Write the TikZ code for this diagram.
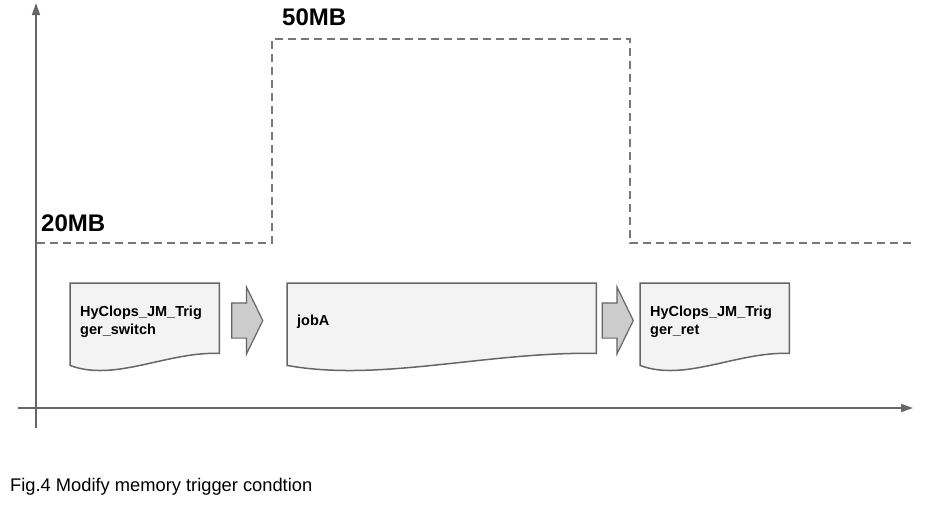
\documentclass[tikz,border=0pt]{standalone}
\usepackage{fontspec}
\setmainfont{Liberation Sans}
\usetikzlibrary{arrows.meta}
\usetikzlibrary{shapes.arrows}
\usetikzlibrary{calc}
\usetikzlibrary{backgrounds}
\definecolor{linegray}{HTML}{666666}
\definecolor{dashgray}{HTML}{777777}
\definecolor{docfill}{HTML}{F3F3F3}
\definecolor{flowfill}{HTML}{CCCCCC}
\tikzset{
axis/.style={draw=linegray,line width=1.5pt,-{Triangle[length=12pt,width=8pt]}},
limit/.style={draw=dashgray,line width=1.5pt,dash pattern=on 8pt off 5pt},
memlabel/.style={font=\bfseries\fontsize{24}{28}\selectfont,inner sep=0pt,anchor=base west},
docnode/.style={
  rectangle,
  anchor=north west,
  minimum height=70pt,
  inner xsep=10pt,
  inner ysep=0pt,
  text height=17pt,
  align=left,
  font=\bfseries\fontsize{14.5}{18}\selectfont
},
docshape/.style={draw=linegray,fill=docfill,line width=1.5pt},
flow/.style={
  single arrow,
  draw=linegray,
  fill=flowfill,
  line width=1.2pt,
  text height=0pt,
  text depth=0pt,
  inner xsep=0pt,
  inner ysep=17pt,
  minimum height=31pt,
  single arrow head extend=16pt,
  single arrow tip angle=128
},
}

\begin{document}
\begin{tikzpicture}[x=1pt,y=-1pt]
\useasboundingbox (0,0) rectangle (926,504);
% the axes
\coordinate (ybot) at (36,428);
\coordinate (ytop) at (36,3);
\coordinate (xleft) at (18,408);
\coordinate (xright) at (913,408);
\draw[axis] (ybot) -- (ytop);
\draw[axis] (xleft) -- (xright);
% the memory limit
\draw[limit] (37,243) -- (272,243) -- (272,39) -- (630,39) -- (630,243) -- (912,243);
\node[memlabel] (low) at (41,231) {20MB};
\node[memlabel] (high) at (282,25) {50MB};
% the jobs
\node[docnode,text width=129pt] (trigsw) at (70,283) {HyClops\_JM\_Trig\\ger\_switch};
\node[docnode,text width=289pt] (joba) at (287,283) {jobA};
\node[docnode,text width=129pt] (trigret) at (640,283) {HyClops\_JM\_Trig\\ger\_ret};
\begin{scope}[on background layer]
\foreach \d in {trigsw,joba,trigret}
{
  \draw[docshape] (\d.north west) -- (\d.north east) -- (\d.south east)
    .. controls ($(\d.south west)!0.65!(\d.south east)+(0,-2)$)
    and ($(\d.south west)!0.3!(\d.south east)+(0,29)$)
    .. ($(\d.south west)+(0,12)$) -- cycle;
}
\end{scope}
% the arrows
\node[flow] (flowa) at (243,320.5) {};
\node[flow] (flowb) at (613.5,320.5) {};
% caption
\node[font=\fontsize{18.3}{22}\selectfont,anchor=base west,inner sep=0pt] (caption) at (10,491) {Fig.4 Modify memory trigger condtion};
\end{tikzpicture}
\end{document}
